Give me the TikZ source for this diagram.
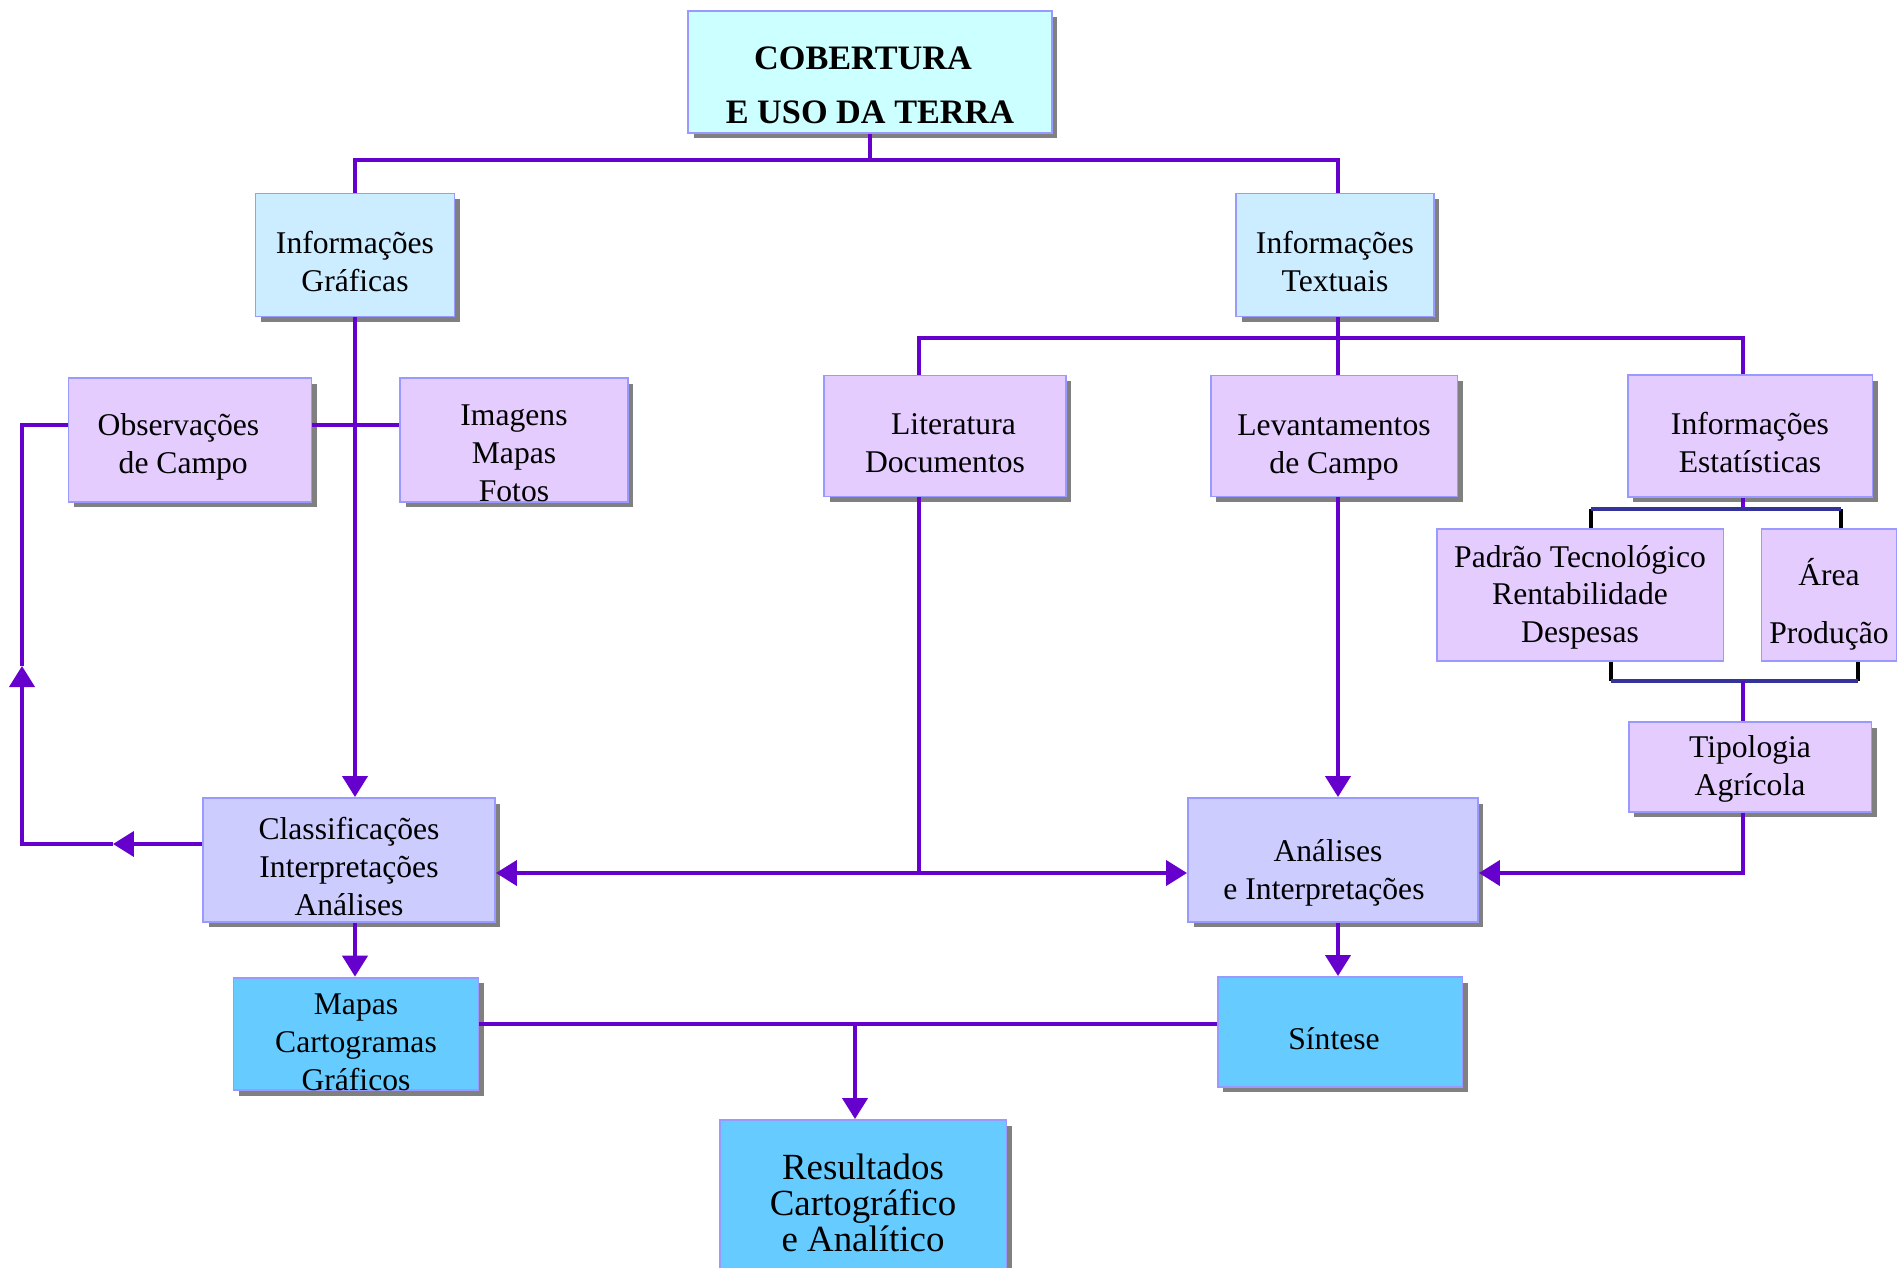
\documentclass[tikz,border=0pt]{standalone}
\usepackage{fontspec}
\setmainfont{Liberation Serif}
\usetikzlibrary{arrows.meta, shadows, calc}

\definecolor{linkcol}{RGB}{102,0,204}
\definecolor{edgecol}{RGB}{153,153,255}
\definecolor{titlefill}{RGB}{204,255,255}
\definecolor{infofill}{RGB}{204,236,255}
\definecolor{srcfill}{RGB}{229,204,255}
\definecolor{procfill}{RGB}{204,204,255}
\definecolor{outfill}{RGB}{102,204,255}
\definecolor{bracecol}{RGB}{51,51,153}

% strut that pushes the text block down in its box
\newcommand{\boxtop}[1][20pt]{\rule{0pt}{#1}}

\begin{document}
\begin{tikzpicture}[
  x=0.02cm, y=-0.02cm,
  box/.style={draw=edgecol, line width=1.1pt, align=center, inner sep=0pt,
              font=\fontsize{18}{21.5}\selectfont},
  shbox/.style={box, drop shadow={shadow xshift=0.11cm, shadow yshift=-0.11cm,
                fill=black!50, opacity=1}},
  link/.style={draw=linkcol, line width=2.3pt},
  arr/.style={link, -{Triangle[width=0.5cm, length=0.42cm]}},
  brace/.style={draw=bracecol, line width=2.3pt},
  tick/.style={draw=black, line width=2.3pt}
]
  \useasboundingbox (0,0) rectangle (1898,1268);

  % boxes
  \node[shbox, fill=titlefill, minimum width=7.28cm, minimum height=2.44cm,
        font=\fontsize{19.5}{31}\selectfont\bfseries] (uso) at (870,72) {\boxtop[28pt]COBERTURA\rule{0.28cm}{0pt}\\E USO DA TERRA};
  \node[shbox, fill=infofill, minimum width=3.98cm, minimum height=2.46cm] (infog) at (355,255) {\boxtop Informações\\Gráficas};
  \node[shbox, fill=infofill, minimum width=3.96cm, minimum height=2.46cm] (infot) at (1335,255) {\boxtop Informações\\Textuais};

  \node[shbox, fill=srcfill, minimum width=4.86cm, minimum height=2.48cm] (obs) at (190,440) {\boxtop Observações\rule{0.46cm}{0pt}\\de Campo\rule{0.27cm}{0pt}};
  \node[shbox, fill=srcfill, minimum width=4.56cm, minimum height=2.48cm] (img) at (514,440) {\boxtop[27pt]Imagens\\Mapas\\Fotos};
  \node[shbox, fill=srcfill, minimum width=4.84cm, minimum height=2.42cm] (lit) at (945,436) {\boxtop\rule{0.34cm}{0pt}Literatura\\Documentos};
  \node[shbox, fill=srcfill, minimum width=4.94cm, minimum height=2.42cm] (lev) at (1334,436) {\boxtop[25pt]Levantamentos\\de Campo};
  \node[shbox, fill=srcfill, minimum width=4.90cm, minimum height=2.44cm] (est) at (1750,436) {\boxtop Informações\\Estatísticas};
  \node[box, fill=srcfill, minimum width=5.74cm, minimum height=2.64cm] (pad) at (1580,595) {\boxtop[15pt]Padrão Tecnológico\\Rentabilidade\\Despesas};
  \node[box, fill=srcfill, minimum width=2.70cm, minimum height=2.64cm] (area) at (1829,595) {\boxtop[26pt]Área\\[11pt]Produção};
  \node[shbox, fill=srcfill, minimum width=4.86cm, minimum height=1.80cm] (tip) at (1750,767) {\boxtop[15pt]Tipologia\\Agrícola};

  \node[shbox, fill=procfill, minimum width=5.84cm, minimum height=2.48cm] (cls) at (349,860) {\boxtop Classificações\\Interpretações\\Análises};
  \node[shbox, fill=procfill, minimum width=5.80cm, minimum height=2.48cm] (anal) at (1333,860) {\boxtop[27pt]Análises\rule{0.2cm}{0pt}\\e Interpretações\rule{0.36cm}{0pt}};

  \node[shbox, fill=outfill, minimum width=4.90cm, minimum height=2.24cm] (mapas) at (356,1034) {\boxtop[21pt]Mapas\\Cartogramas\\Gráficos};
  \node[shbox, fill=outfill, minimum width=4.90cm, minimum height=2.20cm] (sint) at (1340,1032) {\boxtop Síntese\rule{0.24cm}{0pt}};
  \node[shbox, fill=outfill, minimum width=5.74cm, minimum height=3.32cm,
        font=\fontsize{21}{20.5}\selectfont] (res) at (863,1203) {Resultados\\Cartográfico\\e Analítico};

  % helper points
  \coordinate (topbar) at (870,160);
  \coordinate (midbar) at (1338,338);
  \coordinate (litc)   at (919,873);
  \coordinate (bru)    at (1743,509);
  \coordinate (brd)    at (1743,681);
  \coordinate (bul)    at (1591,509);
  \coordinate (bur)    at (1841,509);
  \coordinate (bdl)    at (1611,681);
  \coordinate (bdr)    at (1858,681);
  \coordinate (tipc)   at (1743,873);
  \coordinate (lpa)    at (113,844);
  \coordinate (lpb)    at (22,844);
  \coordinate (lpc)    at (22,666);
  \coordinate (lpd)    at (22,425);
  \coordinate (botbar) at (855,1024);

  % top tree
  \draw[link] (uso.south) -- (topbar);
  \draw[link] (infog.north) -- (infog.north |- topbar) -- (midbar |- topbar) -- (midbar |- infot.north);
  \draw[link] (midbar |- infot.south) -- (midbar);
  \draw[link] (litc |- lit.north) -- (litc |- midbar) -- (bru |- midbar) -- (bru |- est.north);
  \draw[link] (midbar) -- (midbar |- lev.north);

  % left side
  \draw[arr] (infog.south) -- (infog.south |- cls.north);
  \draw[link] (obs.east |- lpd) -- (img.west |- lpd);
  \draw[arr] (cls.west |- lpa) -- (lpa);
  \draw[arr] (lpa) -- (lpb) -- (lpc);
  \draw[link] (lpc) -- (lpd) -- (obs.west |- lpd);

  % middle
  \draw[link] (litc |- lit.south) -- (litc);
  \draw[arr] (litc) -- (cls.east |- litc);
  \draw[arr] (litc) -- (anal.west |- litc);
  \draw[arr] (midbar |- lev.south) -- (midbar |- anal.north);

  % statistics brackets
  \draw[link] (bru |- est.south) -- (bru);
  \draw[tick] (bul) -- (bul |- pad.north);
  \draw[tick] (bur) -- (bur |- area.north);
  \draw[brace] (bul) -- (bur);
  \draw[tick] (bdl |- pad.south) -- (bdl);
  \draw[tick] (bdr |- area.south) -- (bdr);
  \draw[brace] (bdl) -- (bdr);
  \draw[link] (brd) -- (brd |- tip.north);
  \draw[arr] (tip.south -| tipc) -- (tipc) -- (anal.east |- tipc);

  % results
  \draw[arr] (infog.south |- cls.south) -- (infog.south |- mapas.north);
  \draw[arr] (midbar |- anal.south) -- (midbar |- sint.north);
  \draw[link] (mapas.east |- botbar) -- (sint.west |- botbar);
  \draw[arr] (botbar) -- (botbar |- res.north);
\end{tikzpicture}
\end{document}
